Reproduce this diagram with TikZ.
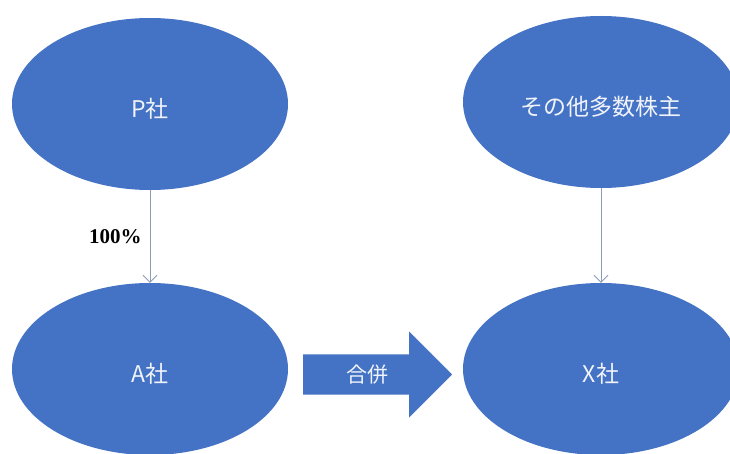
\documentclass[tikz,border=0pt]{standalone}
\usepackage{fontspec}
\newfontfamily\jpfont{Noto Sans CJK JP}
\newfontfamily\pctfont{Liberation Serif}
\usetikzlibrary{shapes.geometric,shapes.arrows,arrows.meta}
\definecolor{kaishablue}{RGB}{68,114,196}
\definecolor{holdline}{RGB}{140,155,185}

\begin{document}
\begin{tikzpicture}[x=1pt,y=-1pt,
	company/.style={ellipse,fill=kaishablue,text=white!92!kaishablue,minimum width=276pt,minimum height=172pt,text height=30pt,text depth=3pt,font=\jpfont\fontsize{23}{23}\selectfont},
	holding/.style={draw=holdline,line width=0.9pt,-{Straight Barb[length=7pt,width=14pt]}},
	mergearrow/.style={single arrow,fill=kaishablue,text=white!92!kaishablue,minimum height=149pt,minimum width=86pt,single arrow head extend=22.5pt,inner xsep=4pt,inner ysep=10pt,font=\jpfont\fontsize{21}{21}\selectfont}]
	\useasboundingbox (0,0) rectangle (730,454);
	\node[company] (P) at (150,104) {P社};
	\node[company] (others) at (601,102) {その他多数株主};
	\node[company] (A) at (150,369) {A社};
	\node[company] (X) at (601,369) {X社};
	\node[mergearrow,anchor=tail] (merge) at (303,374.5) {合併};
	\draw[holding] (P) -- node[left,inner sep=8pt,font=\pctfont\bfseries\fontsize{21}{21}\selectfont] (pct) {100\%} (A);
	\draw[holding] (others) -- (X);
\end{tikzpicture}
\end{document}
